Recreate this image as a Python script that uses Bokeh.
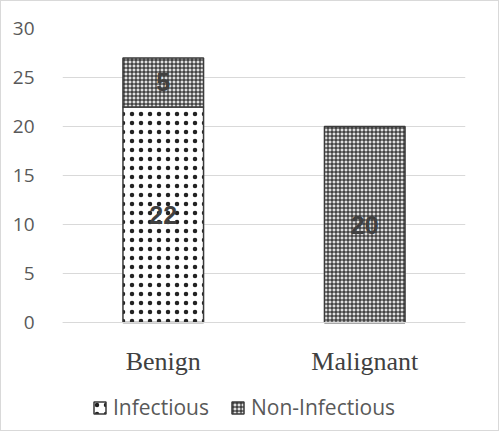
from bokeh.plotting import figure
from bokeh.models import ColumnDataSource, Legend, LegendItem, FixedTicker, LabelSet
from bokeh.core.properties import value
from bokeh.embed import file_html
from bokeh.resources import INLINE

# Data
categories = ["Benign", "Malignant"]
infectious = [22, 0]
non_infectious = [5, 20]
series = ["Infectious", "Non-Infectious"]
y_ticks = [0, 5, 10, 15, 20, 25, 30]

# The frame runs down to the bottom of the chart so that the legend can sit
# inside it; the category axis is pinned at y = 0.
p = figure(x_range=categories, y_range=(-11.02, 30), frame_width=403, frame_height=402,
           output_backend="svg", toolbar_location=None,
           min_border_left=61, min_border_right=33, min_border_top=27, min_border_bottom=0,
           styles={"border": "1px solid #d9d9d9"})
p.outline_line_color = None
p.background_fill_color = "white"
p.border_fill_color = "white"

styles = [
    dict(fill_color="white", hatch_pattern=".", hatch_scale=9, hatch_weight=1.1, hatch_color="#222222"),
    dict(fill_color="#e0e0e0", hatch_pattern="+", hatch_scale=4, hatch_weight=1.0, hatch_color="#111111"),
]

renderers = []
bottom = [0] * len(categories)
for name, vals, st in zip(series, [infectious, non_infectious], styles):
    top = [b + v for b, v in zip(bottom, vals)]
    src = ColumnDataSource(dict(x=categories, bottom=bottom, top=top,
                                mid=[(b + t) / 2 for b, t in zip(bottom, top)],
                                lab=[str(v) if v else "" for v in vals]))
    r = p.vbar(x="x", bottom="bottom", top="top", width=0.4, source=src,
               line_color="#3a3a3a", line_width=1.5, **st)
    renderers.append((name, r))
    labels = LabelSet(x="x", y="mid", text="lab", source=src,
                      text_align="center", text_baseline="middle",
                      text_font=value("Liberation Sans"), text_font_style=value("bold"),
                      text_font_size=value("25px"), text_color=value("#404040"))
    p.add_layout(labels)
    bottom = top

# Axes and grid
p.yaxis.ticker = FixedTicker(ticks=y_ticks)
p.yaxis.axis_line_color = None
p.yaxis.major_tick_line_color = None
p.yaxis.minor_tick_line_color = None
p.yaxis.major_label_standoff = 22
p.yaxis.major_label_text_font = "Open Sans"
p.yaxis.major_label_text_font_size = "19px"
p.yaxis.major_label_text_color = "#595959"

p.xaxis.fixed_location = 0
p.xaxis.axis_line_color = "#d9d9d9"
p.xaxis.major_tick_line_color = None
p.xaxis.minor_tick_line_color = None
p.xaxis.major_label_standoff = 18
p.xaxis.major_label_text_font = "Liberation Serif"
p.xaxis.major_label_text_font_size = "26px"
p.xaxis.major_label_text_color = "#404040"

p.xgrid.grid_line_color = None
p.ygrid.grid_line_color = "#d9d9d9"
p.ygrid.grid_line_width = 1

legend = Legend(items=[LegendItem(label=n, renderers=[r]) for n, r in renderers],
                orientation="horizontal", location=(30, 9),
                label_text_font="Open Sans", label_text_font_size="21px",
                label_text_color="#595959", glyph_width=15, glyph_height=15,
                label_height=21, label_standoff=6, spacing=21, border_line_color=None,
                background_fill_alpha=0, margin=0, padding=0)
p.add_layout(legend, "center")

open("out.html", "w").write(file_html(p, INLINE))
